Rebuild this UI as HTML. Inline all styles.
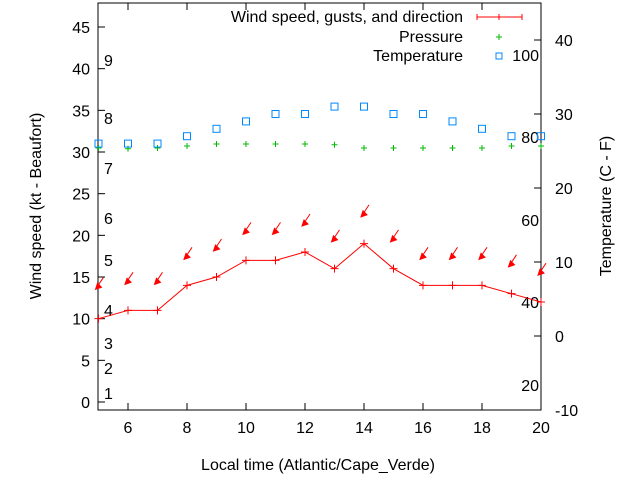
<!DOCTYPE html>
<html><head><meta charset="utf-8"><style>
body{margin:0;background:#fff}
svg{display:block;font-family:"Liberation Sans",sans-serif}
</style></head><body>
<svg width="640" height="480" viewBox="0 0 640 480">
<g id="axes"></g>
<g id="marks"></g>
<g id="legend">
<text x="463" y="22" font-size="16" text-anchor="end">Wind speed, gusts, and direction</text>
<line x1="477" y1="17" x2="522" y2="17" stroke="#f00"/>
<line x1="477" y1="14" x2="477" y2="20" stroke="#f00"/><line x1="522" y1="14" x2="522" y2="20" stroke="#f00"/><line x1="499" y1="14" x2="499" y2="20" stroke="#f00"/>
<text x="463" y="42" font-size="16" text-anchor="end">Pressure</text>
<path d="M496 37h6M499 34v6" stroke="#0b0"/>
<text x="463" y="61" font-size="16" text-anchor="end">Temperature</text>
<rect x="496" y="53" width="6" height="6" fill="none" stroke="#08f"/>
</g>
<text x="318" y="470" font-size="16" text-anchor="middle">Local time (Atlantic/Cape_Verde)</text>
<text transform="translate(41,206) rotate(-90)" font-size="16" text-anchor="middle">Wind speed (kt - Beaufort)</text>
<text transform="translate(611,206) rotate(-90)" font-size="16" text-anchor="middle">Temperature (C - F)</text>
</svg>
<script>
const hours=[5,6,7,8,9,10,11,12,13,14,15,16,17,18,19,20];
const wind=[10,11,11,14,15,17,17,18,16,19,16,14,14,14,13,12];
const gusts=[14,14.6,14.6,17.6,18.6,20.6,20.6,21.6,19.7,22.7,19.7,17.6,17.6,17.6,16.7,15.7];
const pressure=[1013,1012.8,1013,1013.5,1014,1014,1014,1014,1013.8,1013,1013,1013,1013,1013,1013.5,1013.5];
const temps=[26,26,26,27,28,29,30,30,31,31,30,30,29,28,27,27];
const xTicks=[6,8,10,12,14,16,18,20];
const yTicks=[0,5,10,15,20,25,30,35,40,45];
const y2Ticks=[-10,0,10,20,30,40];
const beaufort=[[1,393],[2,368],[3,343],[4,310],[5,260],[6,218],[7,168],[8,118],[9,60]];
const humid=[[20,385],[40,302],[60,220],[80,137],[100,55]];
const L=98,R=541,T=3,B=410;
const X=h=>98.5+(h-5)*29.5;
const Y=v=>402-v*8.333;
const Y2=t=>40+(40-t)*7.4;
const YP=p=>148-(p-1013)*4;
const NS='http://www.w3.org/2000/svg';
function mk(p,tag,a){const e=document.createElementNS(NS,tag);for(const k in a)e.setAttribute(k,a[k]);p.appendChild(e);return e;}
const ax=document.getElementById('axes'),mg=document.getElementById('marks');
const fr=mk(ax,'rect',{x:L,y:T,width:R-L,height:B-T,fill:'none',stroke:'#000'});


xTicks.forEach(h=>{const x=X(h);mk(ax,'line',{x1:x,y1:B,x2:x,y2:B-7,stroke:'#000'});mk(ax,'line',{x1:x,y1:T,x2:x,y2:T+7,stroke:'#000'});
const t=mk(ax,'text',{x:x,y:B+23,'font-size':16,'text-anchor':'middle'});t.textContent=h;

});
yTicks.forEach(v=>{const y=Y(v);mk(ax,'line',{x1:L,y1:y,x2:L+7,y2:y,stroke:'#000'});
const t=mk(ax,'text',{x:L-8,y:y+6,'font-size':16,'text-anchor':'end'});t.textContent=v;

});
y2Ticks.forEach(v=>{const y=Y2(v);mk(ax,'line',{x1:R,y1:y,x2:R-7,y2:y,stroke:'#000'});
const t=mk(ax,'text',{x:R+14,y:y+6,'font-size':16});t.textContent=v;

});
beaufort.forEach(([n,y])=>{const t=mk(ax,'text',{x:104,y:y+6,'font-size':16});t.textContent=n;

});
humid.forEach(([n,y])=>{const t=mk(ax,'text',{x:539,y:y+6,'font-size':16,'text-anchor':'end'});t.textContent=n;

});
pressure.forEach((p,i)=>{const x=X(hours[i]),y=YP(p);const e=mk(mg,'path',{d:`M${x-3} ${y}h6M${x} ${y-3}v6`,stroke:'#0b0'});

});
temps.forEach((t,i)=>{const x=X(hours[i]),y=Y2(t);const e=mk(mg,'rect',{x:x-3.5,y:y-3.5,width:7,height:7,fill:'none',stroke:'#08f'});

});
const wl=mk(mg,'polyline',{points:wind.map((w,i)=>X(hours[i])+','+Y(w)).join(' '),fill:'none',stroke:'#f00'});


wind.forEach((w,i)=>{const x=X(hours[i]),y=Y(w);const e=mk(mg,'path',{d:`M${x-4} ${y}h8M${x} ${y-4}v8`,stroke:'#f00'});

});
gusts.forEach((g,i)=>{const x=X(hours[i]),y=Y(g);const e=mk(mg,'g',{});
mk(e,'line',{x1:x+5,y1:y-8,x2:x-1,y2:y+1,stroke:'#f00'});
mk(e,'polygon',{points:`${x-3},${y+4} ${x+3},${y+2} ${x-1},${y-2}`,fill:'#f00',stroke:'#f00'});

});
</script>
</body></html>
